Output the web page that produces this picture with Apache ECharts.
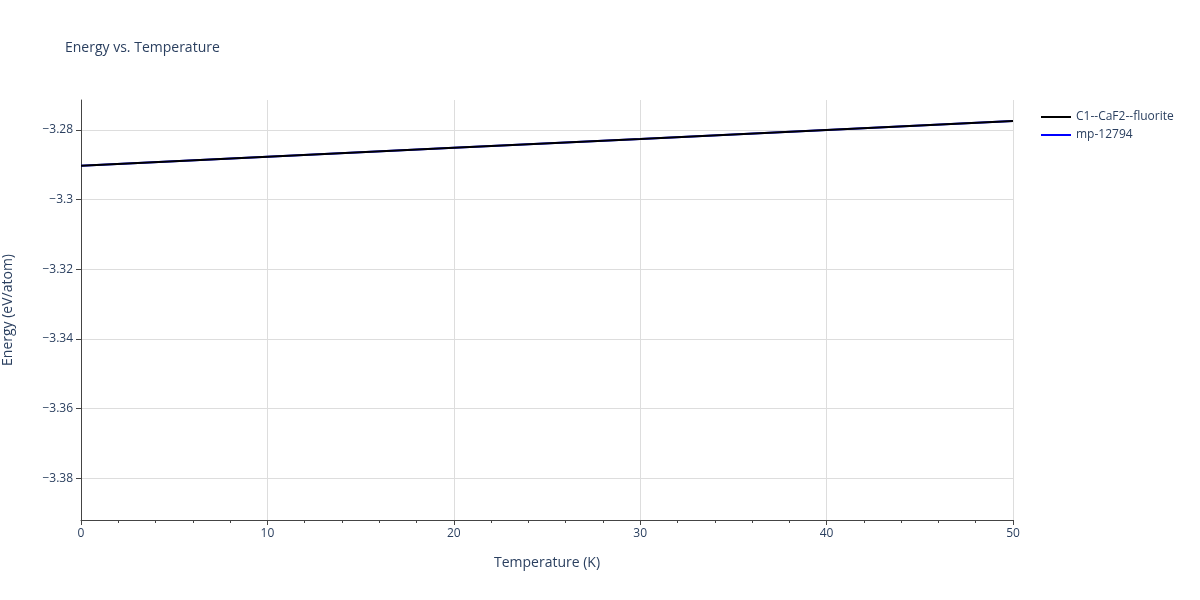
<!DOCTYPE html>
<html><head><meta charset="utf-8">
<script src="https://cdn.jsdelivr.net/npm/echarts@6/dist/echarts.min.js"></script>
<style>html,body{margin:0;padding:0;background:#fff}#c{width:1200px;height:600px}</style>
</head><body><div id="c"></div>
<script>
const temps = [0, 10, 20, 30, 40, 50];
const fluorite = [-3.2903, -3.2877, -3.2851, -3.2826, -3.2800, -3.2774];
const mp12794 = [-3.2903, -3.2877, -3.2851, -3.2826, -3.2800, -3.2774];
const yTicks = [-3.38, -3.36, -3.34, -3.32, -3.30, -3.28];
const ch = echarts.init(document.getElementById('c'));
const txt = '#2a3f5f';
ch.setOption({
  animation: false,
  title: {text: 'Energy vs. Temperature', left: 60, top: 36, textStyle: {fontFamily: 'Open Sans', fontSize: 14, fontWeight: 'normal', color: txt}},
  legend: {orient: 'vertical', left: 1036, top: 106, itemWidth: 30, itemGap: 6, icon: 'path://M0,0 L30,0 L30,2 L0,2 Z',
    textStyle: {fontFamily: 'Open Sans', fontSize: 12, color: txt}, data: ['C1--CaF2--fluorite', 'mp-12794']},
  grid: {left: 81, right: 187, top: 100, bottom: 80, containLabel: false, outerBoundsMode: 'none'},
  xAxis: {type: 'value', min: 0, max: 50, interval: 10, name: 'Temperature (K)', nameLocation: 'middle', nameGap: 36,
    nameTextStyle: {fontFamily: 'Open Sans', fontSize: 14, color: txt},
    axisLine: {show: true, onZero: false, lineStyle: {color: '#444'}},
    axisTick: {show: true, length: 5, lineStyle: {color: '#444'}},
    minorTick: {show: true, splitNumber: 5, length: 3, lineStyle: {color: '#444'}},
    axisLabel: {fontFamily: 'Open Sans', fontSize: 12, color: txt},
    splitLine: {show: true, lineStyle: {color: '#ddd'}}},
  yAxis: {type: 'value', min: -3.392, max: -3.2714, name: 'Energy (eV/atom)', nameLocation: 'middle', nameGap: 66,
    nameTextStyle: {fontFamily: 'Open Sans', fontSize: 14, color: txt},
    axisLine: {show: true, onZero: false, lineStyle: {color: '#444'}},
    axisTick: {show: true, length: 5, lineStyle: {color: '#444'}, customValues: yTicks},
    minorTick: {show: false},
    axisLabel: {fontFamily: 'Open Sans', fontSize: 12, color: txt, customValues: yTicks,
      formatter: v => (Math.round(v*100)/100).toString().replace('-', '\u2212')},
    splitLine: {show: false}},
  series: [
    {name: 'mp-12794', type: 'line', showSymbol: false, data: temps.map((t,i)=>[t, mp12794[i]]), lineStyle: {color: '#0000ff', width: 2}, itemStyle: {color: '#0000ff'}},
    {name: 'C1--CaF2--fluorite', type: 'line', showSymbol: false, data: temps.map((t,i)=>[t, fluorite[i]]), lineStyle: {color: '#000', width: 2}, itemStyle: {color: '#000'},
      markLine: {silent: true, symbol: 'none', label: {show: false}, lineStyle: {color: '#ddd', type: 'solid', width: 1}, data: yTicks.map(v=>({yAxis: v})), z: 0}}
  ]
});
</script></body></html>
